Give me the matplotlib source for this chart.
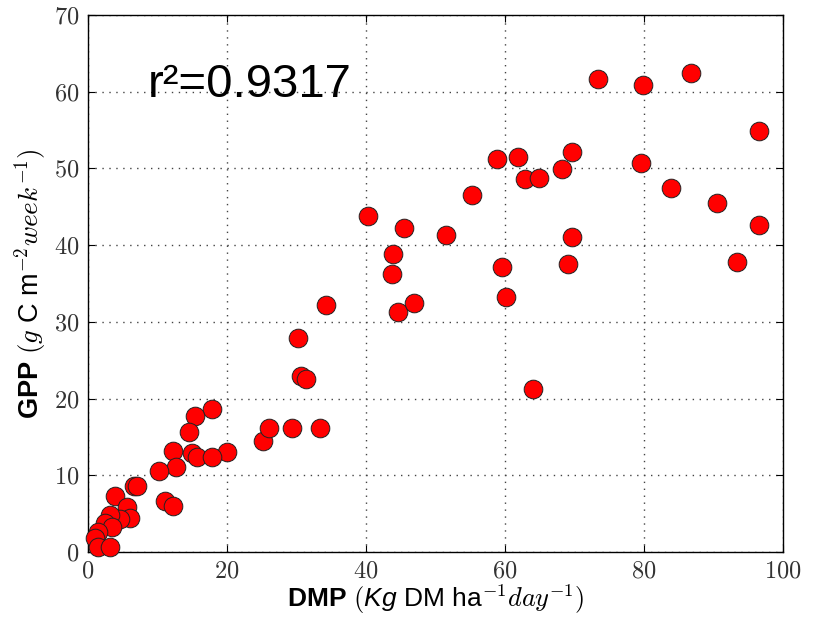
import matplotlib
matplotlib.use("Agg")
import matplotlib.pyplot as plt
from matplotlib.ticker import FuncFormatter

plt.rcParams['font.family'] = ['Liberation Sans', 'DejaVu Sans']
plt.rcParams['mathtext.fontset'] = 'custom'
plt.rcParams['mathtext.rm'] = 'cmr10'
plt.rcParams['mathtext.it'] = 'cmmi10'
plt.rcParams['mathtext.bf'] = 'Liberation Sans:bold'
plt.rcParams['mathtext.sf'] = 'Liberation Sans:italic'
plt.rcParams['mathtext.fallback'] = 'cm'

# Data
dmp = [73.4, 79.8, 86.7, 96.5, 58.9, 61.8, 62.9, 64.9, 68.2, 69.6,
       79.6, 83.9, 55.2, 40.3, 45.4, 51.5, 43.9, 43.8, 44.6, 46.9,
       59.6, 60.2, 64.1, 69.6, 69.0, 90.5, 93.4, 96.5, 34.2, 30.2,
       30.7, 31.4, 29.3, 33.4, 25.2, 26.0, 20.0, 17.9, 15.4, 14.6,
       12.3, 12.7, 14.9, 15.7, 17.9, 10.2, 11.1, 12.3, 6.6, 7.05,
       3.9, 5.6, 6.0, 4.6, 3.2, 2.5, 3.5, 1.5, 1.05, 1.5, 3.2]
gpp = [61.6, 60.9, 62.5, 54.9, 51.2, 51.5, 48.6, 48.7, 49.9, 52.1,
       50.7, 47.4, 46.5, 43.8, 42.2, 41.3, 38.9, 36.2, 31.3, 32.5,
       37.1, 33.3, 21.3, 41.0, 37.6, 45.5, 37.8, 42.6, 32.2, 27.9,
       22.9, 22.5, 16.1, 16.1, 14.5, 16.1, 13.1, 18.6, 17.7, 15.6,
       13.2, 11.1, 12.9, 12.4, 12.4, 10.6, 6.6, 6.0, 8.6, 8.6,
       7.3, 5.9, 4.4, 4.3, 4.8, 3.8, 3.3, 2.6, 1.8, 0.7, 0.7]
r2_text = "r²=0.9317"
x_ticks = [0, 20, 40, 60, 80, 100]
y_ticks = [0, 10, 20, 30, 40, 50, 60, 70]

fig = plt.figure(figsize=(8.18, 6.18), dpi=100)
ax = fig.add_axes([88/818, 66/618, 695/818, 537/618])

ax.scatter(dmp, gpp, s=180, c='#ff0000', edgecolors='#222222', linewidths=0.7,
           zorder=3, clip_on=False)

ax.set_xlim(0, 100)
ax.set_ylim(0, 70)
ax.set_xticks(x_ticks)
ax.set_yticks(y_ticks)
fmt = FuncFormatter(lambda v, p: r'$%d$' % int(round(v)))
ax.xaxis.set_major_formatter(fmt)
ax.yaxis.set_major_formatter(fmt)
ax.tick_params(direction='in', top=True, right=True, length=5, width=0.8,
               labelsize=17.5, pad=6, labelcolor='#333333')
ax.grid(True, linestyle=(0, (1, 4)), color='#444444', linewidth=1.0)
ax.set_axisbelow(True)
for s in ax.spines.values():
    s.set_linewidth(1.0)

ax.set_xlabel(r'$\mathbf{DMP}\ (\mathsf{Kg}$ DM ha$^{-1}\mathit{day}^{-1})$',
              fontsize=19, labelpad=0)
ax.set_ylabel(r'$\mathbf{GPP}\ (\mathit{g}$ C m$^{-2}\mathit{week}^{-1})$',
              fontsize=19.5, labelpad=4)

ax.text(8.6, 59.3, r2_text, fontsize=34, va='baseline', ha='left',
        family=['Liberation Sans', 'DejaVu Sans'])

fig.savefig('out.png', dpi=100)
